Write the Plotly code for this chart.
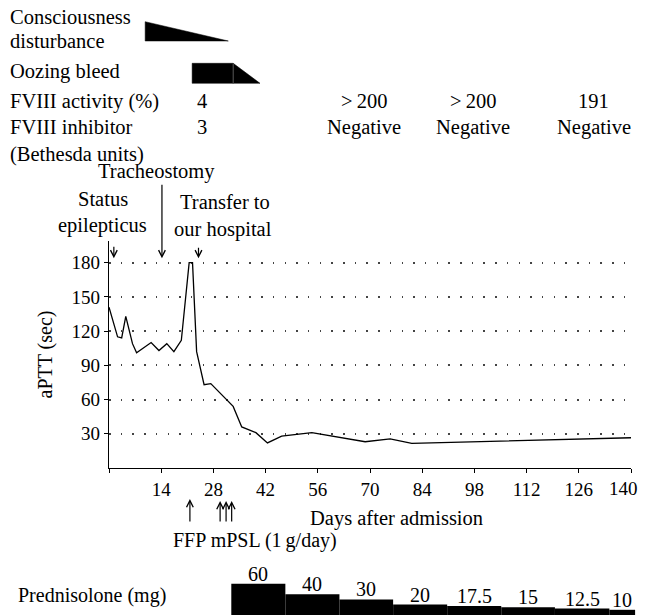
import plotly.graph_objects as go

# The page body keeps its default 8px margin, so the figure is drawn 8px in
# from the top-left corner; it is sized so the page stays 648 px wide.
PAGE_W, PAGE_H = 648, 615
OFF = 8
W, H = PAGE_W - 2 * OFF, PAGE_H - OFF
FONT = "Liberation Serif"

# ---------------- data ----------------
aptt_days = [0, 2.3, 3.4, 4.5, 6.3, 7.4, 11.3, 13.4, 15.5, 17.4, 19.4, 21.5, 22.4,
             23.5, 25.5, 27.3, 33.3, 35.6, 39.4, 42.5, 46.3, 54.4, 68.7, 75.4, 81.2, 140]
aptt_sec = [141, 115, 114, 133, 109, 101, 110, 103, 109, 102, 112, 180, 180,
            102, 73, 74, 54, 36, 31, 22, 28, 31, 23, 25.5, 21.5, 26.5]

x_tick_days = [0, 14, 28, 42, 56, 70, 84, 98, 112, 126, 140]
x_tick_text = ["", "14", "28", "42", "56", "70", "84", "98", "112", "126", ""]
last_tick_text = "140"   # drawn right-aligned so it stays inside the figure
y_tick_vals = [30, 60, 90, 120, 150, 180]

pred_mg = [60, 40, 30, 20, 17.5, 15, 12.5, 10]
pred_mg_text = ["60", "40", "30", "20", "17.5", "15", "12.5", "10"]
pred_start_day = [32.8, 47.3, 61.8, 76.2, 90.7, 105.2, 119.6, 134.2]
pred_end_day = 141.1

consciousness_days = [9.7, 32.0]          # start, end of tapering
oozing_days = [22.3, 33.3, 40.5]          # start, end of plateau, end of taper

fviii_days = [25, 68.5, 97.5, 130]
fviii_activity = ["4", "&gt;\u2009200", "&gt;\u2009200", "191"]
fviii_inhibitor = ["3", "Negative", "Negative", "Negative"]

event_days = [1.3, 14.2, 24.0]
ffp_day = 21.7
mpsl_days = [29.8, 31.4, 32.9]


def py(p):
    """page pixel row -> paper y"""
    return 1 - (p - OFF) / H


def pxp(p):
    """page pixel column -> paper x"""
    return (p - OFF) / W


fig = go.Figure()

# aPTT line
fig.add_trace(go.Scatter(x=aptt_days, y=aptt_sec, mode="lines",
                         line=dict(color="black", width=1.3),
                         xaxis="x", yaxis="y", hoverinfo="skip"))

# Prednisolone bars
pred_width = []
pred_center = []
ends = pred_start_day[1:] + [pred_end_day]
for s, e in zip(pred_start_day, ends):
    pred_width.append(e - s)
    pred_center.append((s + e) / 2)
fig.add_trace(go.Bar(x=pred_center, y=pred_mg, width=pred_width,
                     marker=dict(color="black", line=dict(width=0)),
                     xaxis="x2", yaxis="y2", hoverinfo="skip"))

# Top timeline shapes (row positions are layout constants)
c_top, c_bot = 21.7, 41.0
o_top, o_bot = 63.3, 83.3
fig.add_trace(go.Scatter(
    x=[consciousness_days[0], consciousness_days[1], consciousness_days[0], consciousness_days[0]],
    y=[c_top, c_bot, c_bot, c_top], fill="toself", fillcolor="black",
    mode="lines", line=dict(color="black", width=0.5),
    xaxis="x3", yaxis="y3", hoverinfo="skip"))
fig.add_trace(go.Scatter(
    x=[oozing_days[0], oozing_days[1], oozing_days[1], oozing_days[0], oozing_days[0]],
    y=[o_top, o_top, o_bot, o_bot, o_top], fill="toself", fillcolor="black",
    mode="lines", line=dict(color="black", width=0.5),
    xaxis="x3", yaxis="y3", hoverinfo="skip"))
fig.add_trace(go.Scatter(
    x=[oozing_days[1], oozing_days[2], oozing_days[1], oozing_days[1]],
    y=[o_top, o_bot, o_bot, o_top], fill="toself", fillcolor="black",
    mode="lines", line=dict(color="black", width=0.5),
    xaxis="x3", yaxis="y3", hoverinfo="skip"))
fig.add_trace(go.Scatter(
    x=[oozing_days[1], oozing_days[1]], y=[o_top, o_bot], mode="lines",
    line=dict(color="#666", width=0.8), xaxis="x3", yaxis="y3", hoverinfo="skip"))

ann = []


def text(t, x, y, size=20.5, xanchor="center", xref="paper", yref="paper", yanchor="middle", angle=0):
    ann.append(dict(text=t, x=x, y=y, xref=xref, yref=yref, xanchor=xanchor,
                    yanchor=yanchor, showarrow=False, textangle=angle,
                    font=dict(family=FONT, size=size, color="black")))


# left labels
text("Consciousness", pxp(8), py(17), xanchor="left")
text("disturbance", pxp(8), py(41), xanchor="left")
text("Oozing bleed", pxp(8), py(71), xanchor="left")
text("FVIII activity (%)", pxp(8), py(101), xanchor="left")
text("FVIII inhibitor", pxp(8), py(127.5), xanchor="left")
text("(Bethesda units)", pxp(8), py(154), xanchor="left")

for d, a, i in zip(fviii_days, fviii_activity, fviii_inhibitor):
    text(a, d, py(101), xref="x")
    text(i, d, py(127.5), xref="x")

# event labels
text("Status", pxp(103), py(199))
text("epilepticus", pxp(102.5), py(225))
text("Tracheostomy", pxp(156.7), py(171))
text("Transfer to", pxp(225), py(201.5))
text("our hospital", pxp(223.3), py(229))

# axis title
text("aPTT (sec)", pxp(45), py(354.5), size=20, angle=-90)

# last x tick label, kept inside the figure edge
text(last_tick_text, 1, py(488.5), size=19, xanchor="right")

# bottom labels
text("Days after admission", pxp(396), py(518), size=20.5)
text("FFP mPSL (1\u2009g/day)", pxp(255.3), py(540), size=20)
text("Prednisolone (mg)", pxp(16), py(595), size=20, xanchor="left")

for c, v, t in zip(pred_center, pred_mg, pred_mg_text):
    ann.append(dict(text=t, x=c, y=v, xref="x2", yref="y2", xanchor="center",
                    yanchor="bottom", yshift=-3, showarrow=False,
                    font=dict(family=FONT, size=20, color="black")))


def arrow(day, tip_px, length):
    ann.append(dict(text="", x=day, y=py(tip_px), xref="x", yref="paper",
                    showarrow=True, ax=0, ay=length, axref="pixel", ayref="pixel",
                    arrowhead=5, arrowsize=1.1, arrowwidth=1.2, arrowcolor="black"))


arrow(event_days[0], 258.3, -13)
arrow(event_days[1], 258.3, -75)
arrow(event_days[2], 258.3, -12)
arrow(ffp_day, 499, 24)
for d in mpsl_days:
    arrow(d, 501, 22)

tickfont = dict(family=FONT, size=19, color="black")
px_per_day = (631 - 109) / 140

fig.update_layout(
    width=W, height=H, autosize=False,
    margin=dict(l=0, r=0, t=0, b=0),
    paper_bgcolor="white", plot_bgcolor="white",
    showlegend=False,
    annotations=ann,
    xaxis=dict(domain=[pxp(109), pxp(631)], range=[0, 140], tickvals=x_tick_days,
               ticktext=x_tick_text, showline=True, linecolor="black", linewidth=1.3,
               ticks="outside", ticklen=4, tickcolor="black", tickwidth=1,
               showgrid=False, zeroline=False, tickfont=tickfont, anchor="y"),
    yaxis=dict(domain=[py(468), py(241)], range=[0, 199], tickvals=y_tick_vals,
               showline=True, linecolor="black", linewidth=1.3,
               ticks="outside", ticklen=4, tickcolor="black", tickwidth=1,
               showgrid=True, gridcolor="#444", gridwidth=1.5, griddash="1.5px,10.2px",
               zeroline=False, tickfont=tickfont, anchor="x"),
    xaxis2=dict(domain=[pxp(109), 1], range=[0, (W + OFF - 109) / px_per_day],
                visible=False, anchor="y2"),
    yaxis2=dict(domain=[0, 45 / H], range=[0, 86.5], visible=False, anchor="x2"),
    xaxis3=dict(domain=[pxp(109), pxp(631)], range=[0, 140], visible=False, anchor="y3"),
    yaxis3=dict(domain=[py(95), py(OFF)], range=[95, OFF], visible=False, anchor="x3"),
)

fig.write_html("out.html", config={"displayModeBar": False})
